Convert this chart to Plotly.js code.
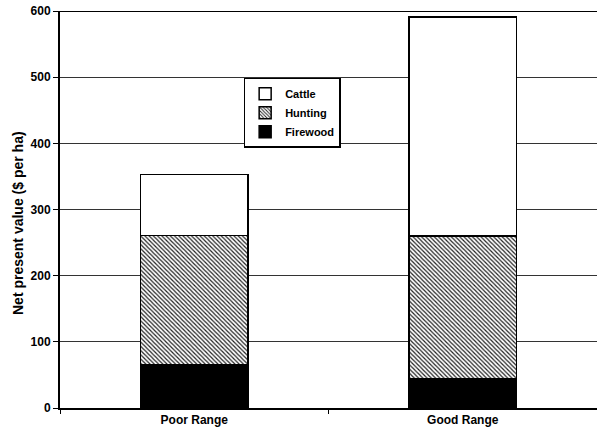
<!DOCTYPE html>
<html>
<head>
<meta charset="utf-8">
<script src="https://cdn.plot.ly/plotly-3.0.1.min.js"></script>
<style>html,body{margin:0;padding:0;background:#fff;}#chart{width:597px;height:435px;}</style>
</head>
<body>
<div id="chart"></div>
<script>
const categories = ["Poor Range", "Good Range"];
const firewood = [65, 44];
const hunting = [196, 216];
const cattle = [92, 331];
const yTicks = [0, 100, 200, 300, 400, 500, 600];
const yTitle = "Net present value ($ per ha)";

const FONT = "Arial, 'Liberation Sans', sans-serif";
const line = {color: "#000", width: 1.5};

const traces = [
  {type: "bar", name: "Firewood", x: categories, y: firewood,
   marker: {color: "#000", line: line}},
  {type: "bar", name: "Hunting", x: categories, y: hunting,
   marker: {color: "#fff", line: line,
            pattern: {shape: "\\", fgcolor: "#222", bgcolor: "#fff", size: 3, solidity: 0.4}}},
  {type: "bar", name: "Cattle", x: categories, y: cattle,
   marker: {color: "#fff", line: line}}
];

const layout = {
  width: 597, height: 435,
  margin: {l: 60, r: 0, t: 11, b: 27},
  barmode: "stack",
  bargap: 0.6,
  paper_bgcolor: "#fff", plot_bgcolor: "#fff",
  font: {family: FONT, size: 12, color: "#000", weight: "bold"},
  showlegend: true,
  legend: {
    x: 0.342, y: 0.832, xanchor: "left", yanchor: "top",
    traceorder: "reversed",
    bgcolor: "#fff", bordercolor: "#000", borderwidth: 1.5,
    font: {family: FONT, size: 11, color: "#000", weight: "bold"},
    itemwidth: 30, tracegroupgap: 3
  },
  xaxis: {
    type: "category",
    showline: true, linecolor: "#000", linewidth: 1.5,
    ticks: "outside", tickson: "boundaries", ticklen: 4, tickcolor: "#000",
    showgrid: false, zeroline: false,
    tickfont: {family: FONT, size: 12, weight: "bold"}
  },
  yaxis: {
    range: [0, 600], tickvals: yTicks, ticktext: yTicks.map(String),
    showline: true, linecolor: "#000", linewidth: 2,
    ticks: "outside", ticklen: 5, tickcolor: "#000",
    showgrid: true, gridcolor: "#333", gridwidth: 1,
    zeroline: false,
    tickfont: {family: FONT, size: 12, weight: "bold"}
  },
  annotations: [
    {text: yTitle, xref: "paper", yref: "paper", x: 0, y: 0.466,
     xshift: -42, xanchor: "center", yanchor: "middle", textangle: -90,
     showarrow: false, font: {family: FONT, size: 14, weight: "bold", color: "#000"}}
  ],
  shapes: [
    {type: "line", xref: "paper", yref: "y", x0: 0, x1: 1, y0: 600, y1: 600,
     line: {color: "#000", width: 2}}
  ]
};

Plotly.newPlot("chart", traces, layout, {displayModeBar: false, staticPlot: true});
</script>
</body>
</html>
